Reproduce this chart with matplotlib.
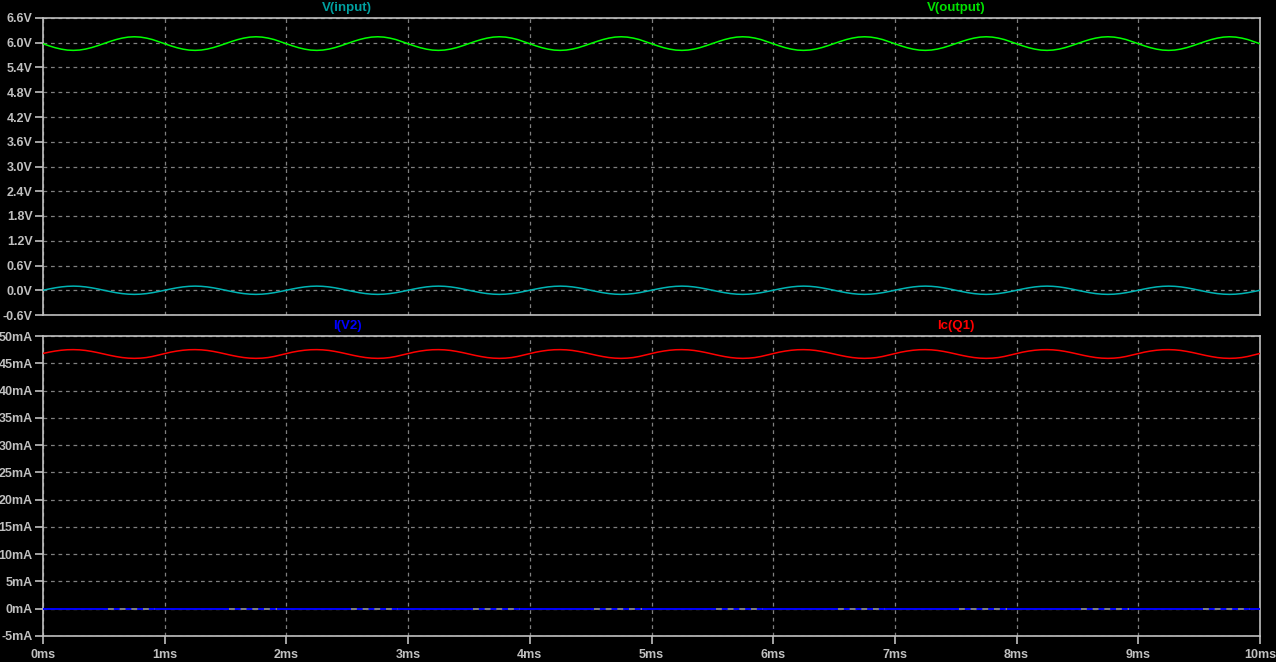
import numpy as np
import matplotlib
matplotlib.use("Agg")
import matplotlib.pyplot as plt

# ---------------- data ----------------
# sample times in ms (every 0.05 ms)
t_ms = np.linspace(0.0, 10.0, 201)

v_input = [
    0.000, 0.031, 0.059, 0.081, 0.095, 0.100, 0.095, 0.081, 0.059, 0.031, 0.000, -0.031, -0.059, -0.081, -0.095, -0.100, -0.095, -0.081, -0.059, -0.031,
    0.000, 0.031, 0.059, 0.081, 0.095, 0.100, 0.095, 0.081, 0.059, 0.031, 0.000, -0.031, -0.059, -0.081, -0.095, -0.100, -0.095, -0.081, -0.059, -0.031,
    0.000, 0.031, 0.059, 0.081, 0.095, 0.100, 0.095, 0.081, 0.059, 0.031, 0.000, -0.031, -0.059, -0.081, -0.095, -0.100, -0.095, -0.081, -0.059, -0.031,
    0.000, 0.031, 0.059, 0.081, 0.095, 0.100, 0.095, 0.081, 0.059, 0.031, 0.000, -0.031, -0.059, -0.081, -0.095, -0.100, -0.095, -0.081, -0.059, -0.031,
    0.000, 0.031, 0.059, 0.081, 0.095, 0.100, 0.095, 0.081, 0.059, 0.031, 0.000, -0.031, -0.059, -0.081, -0.095, -0.100, -0.095, -0.081, -0.059, -0.031,
    0.000, 0.031, 0.059, 0.081, 0.095, 0.100, 0.095, 0.081, 0.059, 0.031, 0.000, -0.031, -0.059, -0.081, -0.095, -0.100, -0.095, -0.081, -0.059, -0.031,
    0.000, 0.031, 0.059, 0.081, 0.095, 0.100, 0.095, 0.081, 0.059, 0.031, 0.000, -0.031, -0.059, -0.081, -0.095, -0.100, -0.095, -0.081, -0.059, -0.031,
    0.000, 0.031, 0.059, 0.081, 0.095, 0.100, 0.095, 0.081, 0.059, 0.031, 0.000, -0.031, -0.059, -0.081, -0.095, -0.100, -0.095, -0.081, -0.059, -0.031,
    0.000, 0.031, 0.059, 0.081, 0.095, 0.100, 0.095, 0.081, 0.059, 0.031, 0.000, -0.031, -0.059, -0.081, -0.095, -0.100, -0.095, -0.081, -0.059, -0.031,
    0.000, 0.031, 0.059, 0.081, 0.095, 0.100, 0.095, 0.081, 0.059, 0.031, 0.000, -0.031, -0.059, -0.081, -0.095, -0.100, -0.095, -0.081, -0.059, -0.031,
    0.000,
]

v_output = [
    5.975, 5.925, 5.880, 5.845, 5.822, 5.815, 5.823, 5.847, 5.883, 5.929, 5.980, 6.031, 6.077, 6.113, 6.137, 6.145, 6.137, 6.113, 6.077, 6.027,
    5.975, 5.925, 5.880, 5.845, 5.822, 5.815, 5.823, 5.847, 5.883, 5.929, 5.980, 6.031, 6.077, 6.113, 6.137, 6.145, 6.137, 6.113, 6.077, 6.027,
    5.975, 5.925, 5.880, 5.845, 5.822, 5.815, 5.823, 5.847, 5.883, 5.929, 5.980, 6.031, 6.077, 6.113, 6.137, 6.145, 6.137, 6.113, 6.077, 6.027,
    5.975, 5.925, 5.880, 5.845, 5.822, 5.815, 5.823, 5.847, 5.883, 5.929, 5.980, 6.031, 6.077, 6.113, 6.137, 6.145, 6.137, 6.113, 6.077, 6.027,
    5.975, 5.925, 5.880, 5.845, 5.822, 5.815, 5.823, 5.847, 5.883, 5.929, 5.980, 6.031, 6.077, 6.113, 6.137, 6.145, 6.137, 6.113, 6.077, 6.027,
    5.975, 5.925, 5.880, 5.845, 5.822, 5.815, 5.823, 5.847, 5.883, 5.929, 5.980, 6.031, 6.077, 6.113, 6.137, 6.145, 6.137, 6.113, 6.077, 6.027,
    5.975, 5.925, 5.880, 5.845, 5.822, 5.815, 5.823, 5.847, 5.883, 5.929, 5.980, 6.031, 6.077, 6.113, 6.137, 6.145, 6.137, 6.113, 6.077, 6.027,
    5.975, 5.925, 5.880, 5.845, 5.822, 5.815, 5.823, 5.847, 5.883, 5.929, 5.980, 6.031, 6.077, 6.113, 6.137, 6.145, 6.137, 6.113, 6.077, 6.027,
    5.975, 5.925, 5.880, 5.845, 5.822, 5.815, 5.823, 5.847, 5.883, 5.929, 5.980, 6.031, 6.077, 6.113, 6.137, 6.145, 6.137, 6.113, 6.077, 6.027,
    5.975, 5.925, 5.880, 5.845, 5.822, 5.815, 5.823, 5.847, 5.883, 5.929, 5.980, 6.031, 6.077, 6.113, 6.137, 6.145, 6.137, 6.113, 6.077, 6.027,
    5.975,
]

ic_q1_mA = [
    46.80, 47.04, 47.24, 47.39, 47.48, 47.50, 47.46, 47.35, 47.17, 46.95, 46.70, 46.45, 46.23, 46.05, 45.94, 45.90, 45.94, 46.05, 46.25, 46.52,
    46.80, 47.04, 47.24, 47.39, 47.48, 47.50, 47.46, 47.35, 47.17, 46.95, 46.70, 46.45, 46.23, 46.05, 45.94, 45.90, 45.94, 46.05, 46.25, 46.52,
    46.80, 47.04, 47.24, 47.39, 47.48, 47.50, 47.46, 47.35, 47.17, 46.95, 46.70, 46.45, 46.23, 46.05, 45.94, 45.90, 45.94, 46.05, 46.25, 46.52,
    46.80, 47.04, 47.24, 47.39, 47.48, 47.50, 47.46, 47.35, 47.17, 46.95, 46.70, 46.45, 46.23, 46.05, 45.94, 45.90, 45.94, 46.05, 46.25, 46.52,
    46.80, 47.04, 47.24, 47.39, 47.48, 47.50, 47.46, 47.35, 47.17, 46.95, 46.70, 46.45, 46.23, 46.05, 45.94, 45.90, 45.94, 46.05, 46.25, 46.52,
    46.80, 47.04, 47.24, 47.39, 47.48, 47.50, 47.46, 47.35, 47.17, 46.95, 46.70, 46.45, 46.23, 46.05, 45.94, 45.90, 45.94, 46.05, 46.25, 46.52,
    46.80, 47.04, 47.24, 47.39, 47.48, 47.50, 47.46, 47.35, 47.17, 46.95, 46.70, 46.45, 46.23, 46.05, 45.94, 45.90, 45.94, 46.05, 46.25, 46.52,
    46.80, 47.04, 47.24, 47.39, 47.48, 47.50, 47.46, 47.35, 47.17, 46.95, 46.70, 46.45, 46.23, 46.05, 45.94, 45.90, 45.94, 46.05, 46.25, 46.52,
    46.80, 47.04, 47.24, 47.39, 47.48, 47.50, 47.46, 47.35, 47.17, 46.95, 46.70, 46.45, 46.23, 46.05, 45.94, 45.90, 45.94, 46.05, 46.25, 46.52,
    46.80, 47.04, 47.24, 47.39, 47.48, 47.50, 47.46, 47.35, 47.17, 46.95, 46.70, 46.45, 46.23, 46.05, 45.94, 45.90, 45.94, 46.05, 46.25, 46.52,
    46.80,
]

# I(V2): essentially zero over the whole run
iv2_t_ms = [0.0, 10.0]
iv2_mA = [0.0, 0.0]
# intervals (ms) where the trace sits exactly on the zero grid line
iv2_flat_start = [0.53, 1.53, 2.53, 3.53, 4.53, 5.53, 6.53, 7.53, 8.53, 9.53]
iv2_flat_end = [0.92, 1.92, 2.92, 3.92, 4.92, 5.92, 6.92, 7.92, 8.92, 9.92]

x_ticks = list(range(0, 11))
x_labels = [f"{v}ms" for v in x_ticks]
v_ticks = [-0.6, 0.0, 0.6, 1.2, 1.8, 2.4, 3.0, 3.6, 4.2, 4.8, 5.4, 6.0, 6.6]
v_labels = [f"{v:.1f}V" for v in v_ticks]
i_ticks = [-5, 0, 5, 10, 15, 20, 25, 30, 35, 40, 45, 50]
i_labels = [f"{v}mA" for v in i_ticks]

# ---------------- styling ----------------
BG = "#000000"
AXC = "#c0c0c0"
GRIDC = "#808080"
C_IN = "#00b4b4"
C_IN_TXT = "#00a0a0"
C_OUT = "#00ff00"
C_IC = "#ff0000"
C_IV2 = "#0000ff"
FS = 9

plt.rcParams["font.family"] = ["Liberation Sans", "DejaVu Sans"]

W, H = 1276, 662
fig = plt.figure(figsize=(W / 100, H / 100), dpi=100, facecolor=BG)

left_px, right_px = 43, 1260
def px_axes(top_px, bottom_px):
    return [left_px / W, (H - bottom_px) / H, (right_px - left_px) / W, (bottom_px - top_px) / H]

ax1 = fig.add_axes(px_axes(18, 315))
ax2 = fig.add_axes(px_axes(336, 636))

for ax in (ax1, ax2):
    ax.set_facecolor(BG)
    for s in ax.spines.values():
        s.set_color(AXC)
        s.set_linewidth(1.2)
    ax.set_xlim(0, 10)
    ax.set_xticks(x_ticks)
    ax.grid(True, color=GRIDC, linestyle=(0, (3, 3)), linewidth=0.9)
    ax.set_axisbelow(True)
    ax.tick_params(axis="both", colors=AXC, labelcolor=AXC, length=6, width=1.2,
                   direction="out", labelsize=FS)
    ax.tick_params(axis="y", pad=1.5)

ax1.set_ylim(-0.6, 6.6)
ax1.set_yticks(v_ticks)
ax1.set_yticklabels(v_labels, fontweight="bold")
ax1.tick_params(axis="x", length=0, labelbottom=False)

ax2.set_ylim(-5, 50)
ax2.set_yticks(i_ticks)
ax2.set_yticklabels(i_labels, fontweight="bold")
ax2.set_xticklabels(x_labels, fontweight="bold")
ax2.tick_params(axis="x", pad=3)

# traces
ax1.plot(t_ms, v_output, color=C_OUT, lw=1.1, zorder=3)
ax1.plot(t_ms, v_input, color=C_IN, lw=1.1, zorder=3)
ax2.plot(t_ms, ic_q1_mA, color=C_IC, lw=1.1, zorder=3)
ax2.plot(iv2_t_ms, iv2_mA, color=C_IV2, lw=1.4, zorder=3)
for a, b in zip(iv2_flat_start, iv2_flat_end):
    ax2.plot([a, b], [0, 0], color=GRIDC, lw=1.4, linestyle=(0, (3, 3)),
             gapcolor=C_IV2, zorder=4)

# trace names
ax1.text(0.25, 1.0 + 10 / 297, "V(input)", transform=ax1.transAxes, ha="center", va="center",
         color=C_IN_TXT, fontsize=9.5, fontweight="bold")
ax1.text(0.75, 1.0 + 10 / 297, "V(output)", transform=ax1.transAxes, ha="center", va="center",
         color="#00e000", fontsize=9.5, fontweight="bold")
ax2.text(0.25, 1.0 + 10 / 300, "I(V2)", transform=ax2.transAxes, ha="center", va="center",
         color=C_IV2, fontsize=9.5, fontweight="bold")
ax2.text(0.75, 1.0 + 10 / 300, "Ic(Q1)", transform=ax2.transAxes, ha="center", va="center",
         color=C_IC, fontsize=9.5, fontweight="bold")

fig.savefig("out.png", dpi=100, facecolor=BG)
